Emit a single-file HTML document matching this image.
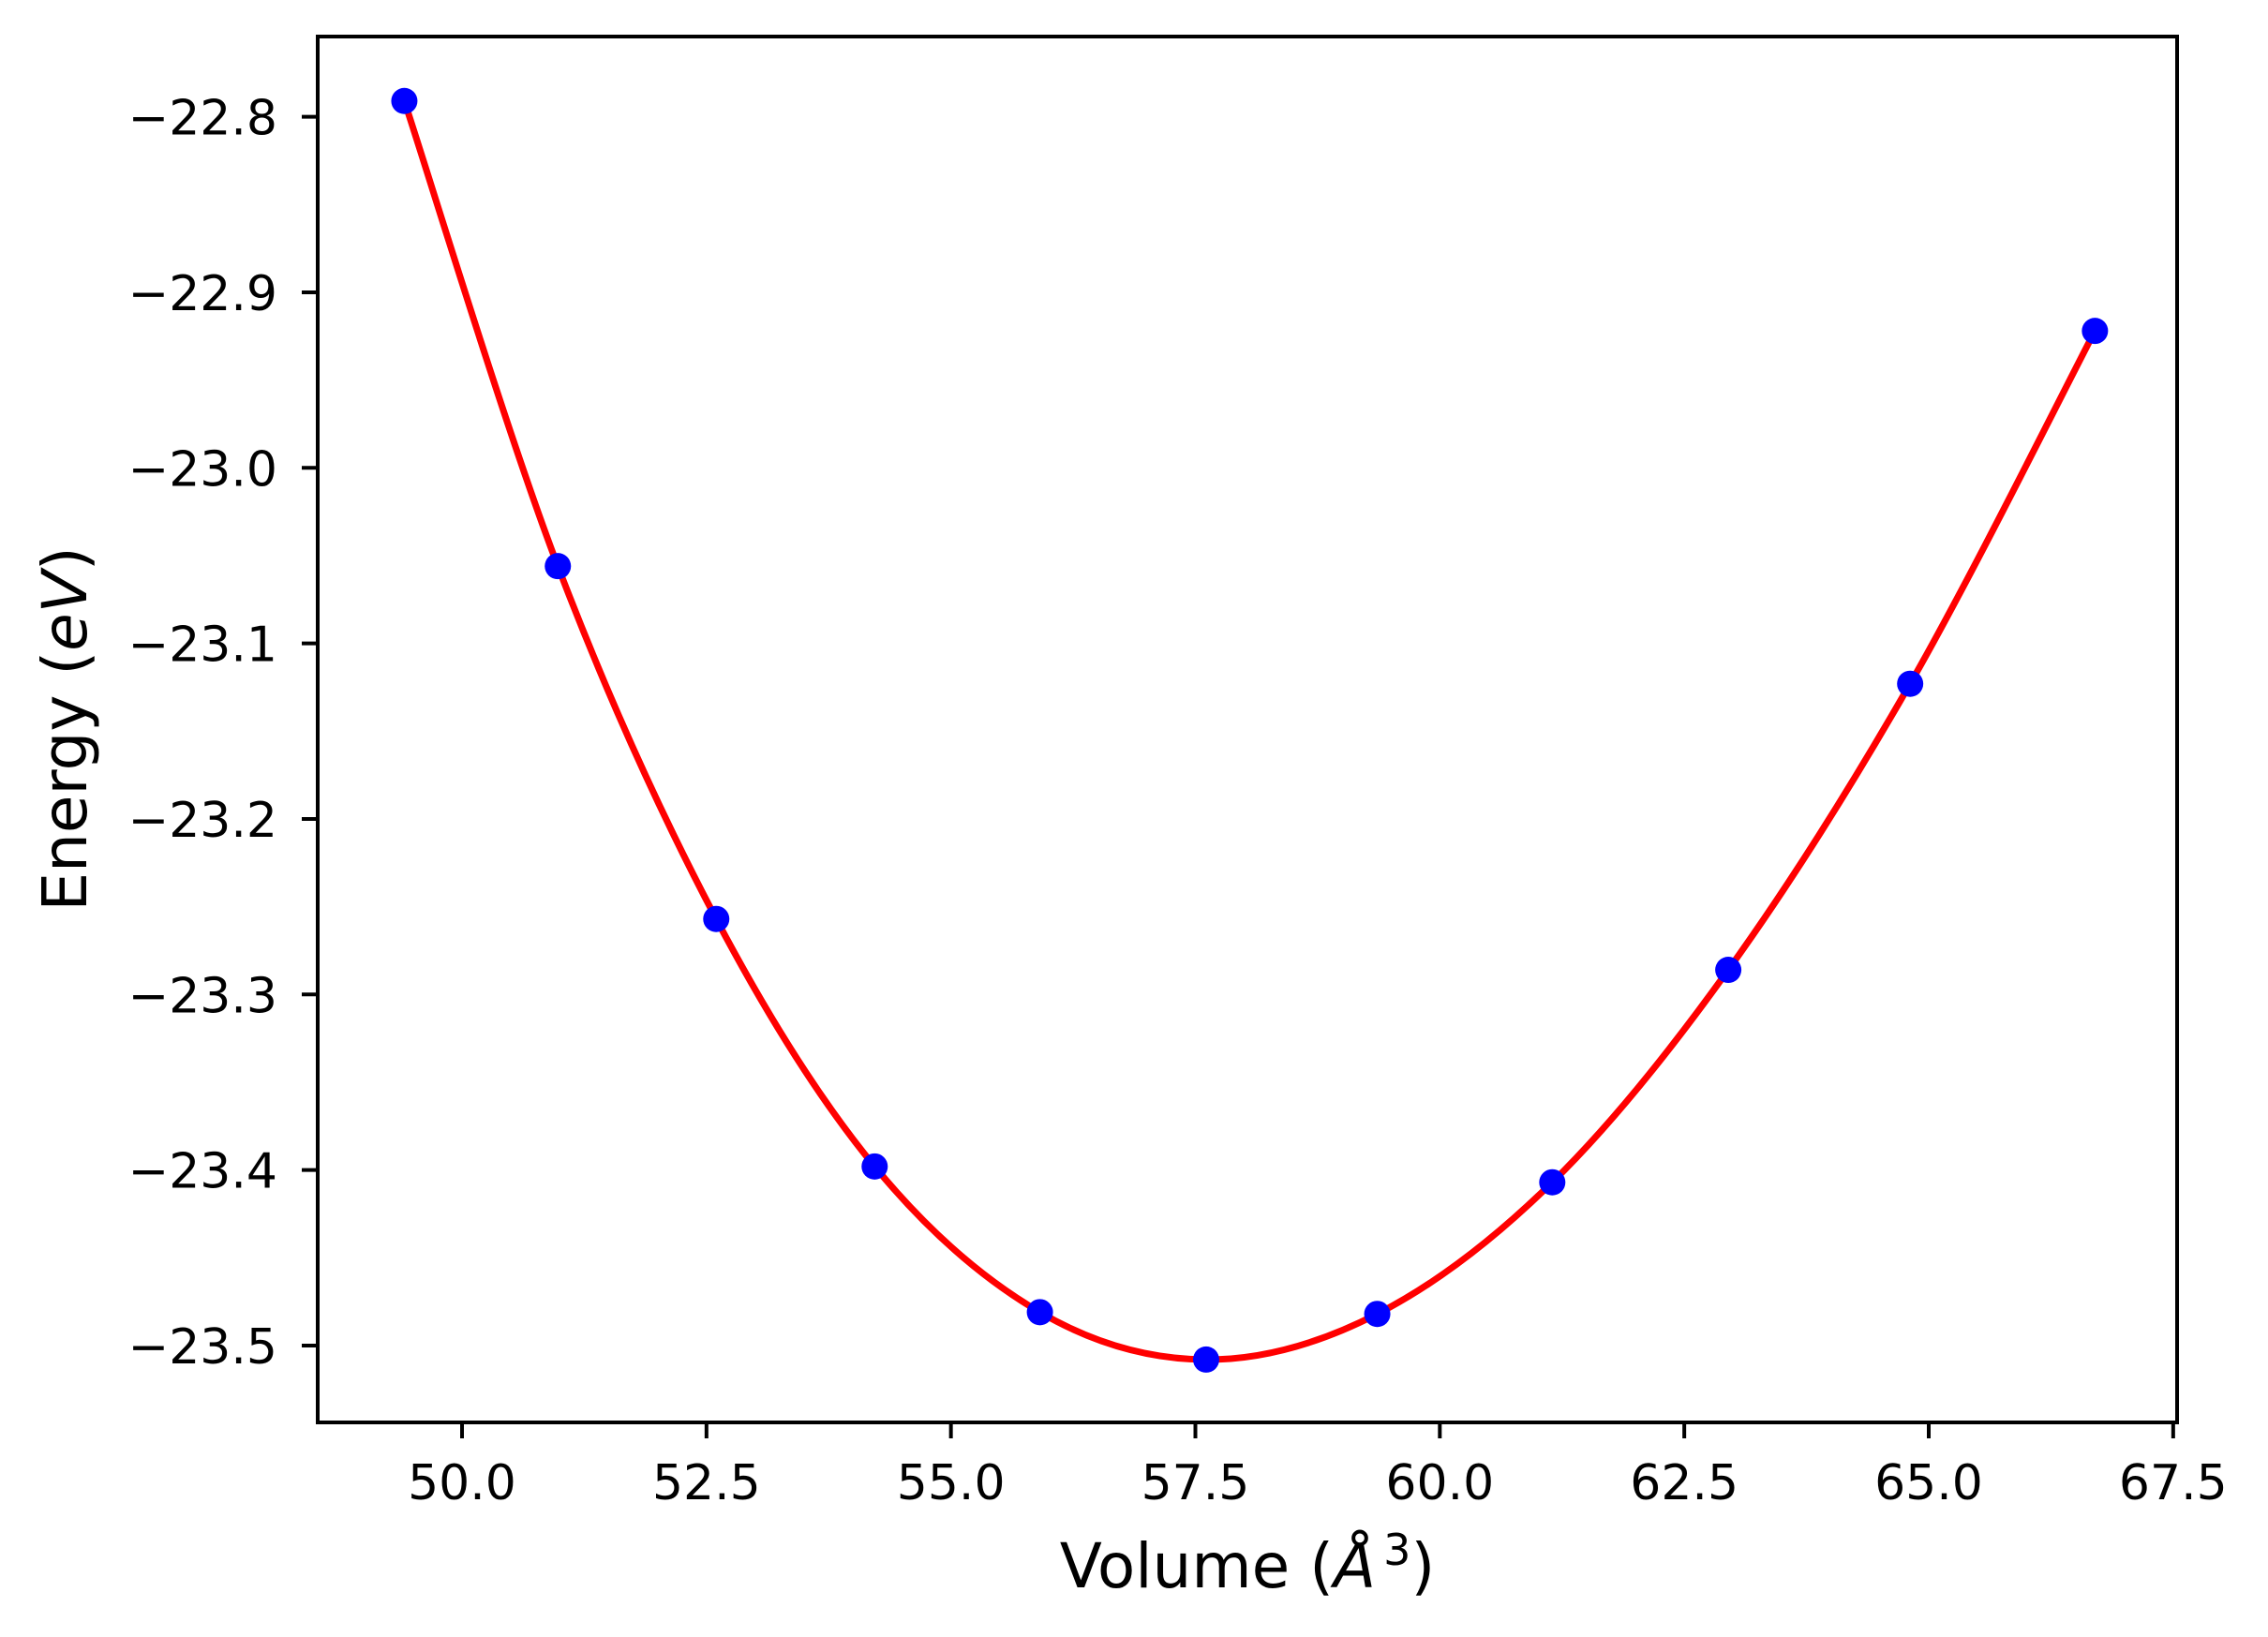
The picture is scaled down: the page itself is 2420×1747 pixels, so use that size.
<!DOCTYPE html>
<html><head><meta charset="utf-8"><style>
html,body{margin:0;padding:0;background:#fff;}
svg{display:block;font-family:"DejaVu Sans","Liberation Sans",sans-serif;}
</style></head><body>
<svg id="chart" width="2420" height="1747" viewBox="0 0 2420 1747" xmlns="http://www.w3.org/2000/svg">
<rect width="2420" height="1747" fill="#fff"/>
<g id="plot"></g>
<g id="axes"></g>
<text x="1331" y="1694" font-size="66" text-anchor="middle">Volume (<tspan font-style="italic">Å</tspan><tspan font-size="46" dx="8" dy="-24">3</tspan><tspan dy="24">)</tspan></text>
<text transform="translate(92,778) rotate(-90)" font-size="66" text-anchor="middle">Energy (<tspan font-style="italic">eV</tspan>)</text>
</svg>
<script>
const volumes=[49.41,50.98,52.60,54.22,55.91,57.61,59.36,61.15,62.95,64.81,66.70];
const energies=[-22.791,-23.056,-23.257,-23.398,-23.481,-23.508,-23.482,-23.407,-23.286,-23.123,-22.922];
const xTicks=[50.0,52.5,55.0,57.5,60.0,62.5,65.0,67.5];
const yTicks=[-22.8,-22.9,-23.0,-23.1,-23.2,-23.3,-23.4,-23.5];
const L=339,R=2323,T=39,B=1518;
const xMin=48.524,xMax=67.54,yMin=-23.5438,yMax=-22.7543;
const NS="http://www.w3.org/2000/svg";
function sx(v){return L+(v-xMin)/(xMax-xMin)*(R-L);}
function sy(v){return B-(v-yMin)/(yMax-yMin)*(B-T);}
function mk(t,a,p){const e=document.createElementNS(NS,t);for(const k in a)e.setAttribute(k,a[k]);p.appendChild(e);return e;}
const plot=document.getElementById('plot'),axes=document.getElementById('axes');
const P=volumes.map((v,i)=>[sx(v),sy(energies[i])]);
let d="M"+P[0][0]+","+P[0][1];
for(let i=0;i<P.length-1;i++){
 const p0=P[i-1]||P[i],p1=P[i],p2=P[i+1],p3=P[i+2]||P[i+1];
 d+=" C"+(p1[0]+(p2[0]-p0[0])/6)+","+(p1[1]+(p2[1]-p0[1])/6)+" "+(p2[0]-(p3[0]-p1[0])/6)+","+(p2[1]-(p3[1]-p1[1])/6)+" "+p2[0]+","+p2[1];
}
const curve=mk('path',{d:d,fill:'none',stroke:'#ff0000','stroke-width':7},plot);


volumes.forEach((v,i)=>{
 const c=mk('circle',{cx:sx(v),cy:sy(energies[i]),r:14,fill:'#0000ff'},plot);
 
 
});
const frame=mk('rect',{x:L,y:T,width:R-L,height:B-T,fill:'none',stroke:'#000','stroke-width':4},axes);


xTicks.forEach(t=>{
 const x=sx(t);
 const ln=mk('line',{x1:x,x2:x,y1:B,y2:B+17,stroke:'#000','stroke-width':4},axes);
 
 
 const tx=mk('text',{x:x,y:1600,'font-size':52,'text-anchor':'middle'},axes);
 tx.textContent=t.toFixed(1);
 
 
});
yTicks.forEach(t=>{
 const y=sy(t);
 const ln=mk('line',{x1:L-17,x2:L,y1:y,y2:y,stroke:'#000','stroke-width':4},axes);
 
 
 const tx=mk('text',{x:296,y:y+19,'font-size':52,'text-anchor':'end'},axes);
 tx.textContent='\u2212'+Math.abs(t).toFixed(1);
 
 
});
</script>
</body></html>
